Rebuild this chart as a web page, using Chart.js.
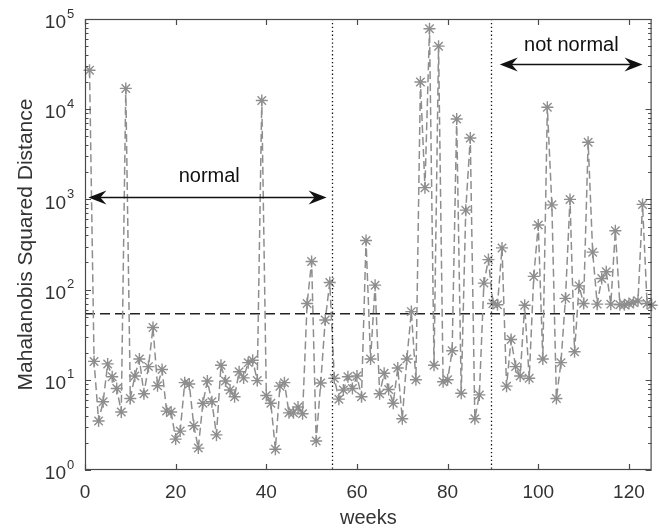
<!DOCTYPE html>
<html><head><meta charset="utf-8">
<script src="https://cdn.jsdelivr.net/npm/chart.js@4/dist/chart.umd.min.js"></script>
<style>html,body{margin:0;padding:0;background:#fff}#wrap{width:659px;height:528px}</style>
</head><body><div id="wrap"><canvas id="c" width="659" height="528"></canvas></div>
<script>
const weeks = [1,2,3,4,5,6,7,8,9,10,11,12,13,14,15,16,17,18,19,20,21,22,23,24,25,26,27,28,29,30,31,32,33,34,35,36,37,38,39,40,41,42,43,44,45,46,47,48,49,50,51,52,53,54,55,56,57,58,59,60,61,62,63,64,65,66,67,68,69,70,71,72,73,74,75,76,77,78,79,80,81,82,83,84,85,86,87,88,89,90,91,92,93,94,95,96,97,98,99,100,101,102,103,104,105,106,107,108,109,110,111,112,113,114,115,116,117,118,119,120,121,122,123,124,125];
const distance = [27000,16,3.5,5.7,15,10.8,8,4.4,17000,6.2,11,17,7,14,38,8.6,13,4.5,4.4,2.2,2.7,9.3,9,3.1,1.75,5.5,9.7,5.7,2.45,14.5,9.7,7.7,6.5,12.3,10.5,15.5,16.5,9.8,12500,6.7,5.5,1.7,8.5,9.3,4.3,4.3,5,4.2,70,205,2.1,9.2,46,120,10.4,6.1,7.7,10.8,8,11,6.5,350,17,112,7,11.8,7.8,5.5,13.5,3.7,17,57,10,20000,1350,78000,14.5,50000,9.5,10,21,7800,7.1,760,4800,3.7,6.8,118,215,70,68,290,8.5,28,14,11,67,10.4,140,520,17,10500,870,6.2,15.5,80,1000,20.5,110,70,4300,260,69,133,158,69,450,68,68,70,72,75,880,70,67];
const threshold = 54;
const boundaries = [54.5, 89.5];
const xTicks = [0,20,40,60,80,100,120];
const yTicks = [1,10,100,1000,10000,100000];
const yTickExp = ['0','1','2','3','4','5'];
const arrows = [
  {x1:0.75, x2:53.3, y:1070},
  {x1:91.5, x2:123.0, y:32000}
];
const notes = [
  {text:'normal', x:27.4, y:1780},
  {text:'not normal', x:107.3, y:51500}
];

const GRAY = '#8e8e8e';
const AX = '#4a4a4a';
const TXT = '#333333';
const FONT = '"Liberation Sans", Arial, sans-serif';

const overlay = {
  id:'overlay',
  afterDraw(chart){
    const ctx = chart.ctx, xs = chart.scales.x, ys = chart.scales.y, a = chart.chartArea;
    ctx.save();
    // boundaries
    ctx.strokeStyle = '#111'; ctx.lineWidth = 1.3; ctx.setLineDash([1.3,2.6]);
    boundaries.forEach(b=>{
      const px = Math.round(xs.getPixelForValue(b))+0.5;
      ctx.beginPath(); ctx.moveTo(px,a.top); ctx.lineTo(px,a.bottom); ctx.stroke();
    });
    ctx.setLineDash([]);
    // arrows
    ctx.strokeStyle = '#111'; ctx.fillStyle = '#111'; ctx.lineWidth = 1.3;
    const head = (tx,ty,dir)=>{
      const L=18, W=7, N=12;
      ctx.beginPath();
      ctx.moveTo(tx,ty);
      ctx.lineTo(tx+dir*L,ty-W);
      ctx.lineTo(tx+dir*N,ty);
      ctx.lineTo(tx+dir*L,ty+W);
      ctx.closePath(); ctx.fill();
    };
    arrows.forEach(ar=>{
      const p1 = xs.getPixelForValue(ar.x1), p2 = xs.getPixelForValue(ar.x2), py = Math.round(ys.getPixelForValue(ar.y))+0.5;
      ctx.beginPath(); ctx.moveTo(p1+5,py); ctx.lineTo(p2-5,py); ctx.stroke();
      head(p1,py,1); head(p2,py,-1);
    });
    // notes
    ctx.fillStyle = '#111'; ctx.font = '20px ' + FONT;
    ctx.textAlign = 'center'; ctx.textBaseline = 'middle';
    notes.forEach(n=>{ ctx.fillText(n.text, xs.getPixelForValue(n.x), ys.getPixelForValue(n.y)); });
    // box
    ctx.strokeStyle = AX; ctx.lineWidth = 1.2;
    ctx.strokeRect(a.left+0.5, a.top+0.5, a.right-a.left-1, a.bottom-a.top-1);
    // x ticks
    ctx.beginPath();
    xTicks.forEach(t=>{
      const px = Math.round(xs.getPixelForValue(t))+0.5;
      ctx.moveTo(px,a.bottom); ctx.lineTo(px,a.bottom-6);
      ctx.moveTo(px,a.top); ctx.lineTo(px,a.top+6);
    });
    // y ticks major + minor
    yTicks.forEach((t,i)=>{
      const py = Math.round(ys.getPixelForValue(t))+0.5;
      ctx.moveTo(a.left,py); ctx.lineTo(a.left+6,py);
      ctx.moveTo(a.right,py); ctx.lineTo(a.right-6,py);
      if(i<yTicks.length-1){
        for(let m=2;m<=9;m++){
          const pm = Math.round(ys.getPixelForValue(t*m))+0.5;
          ctx.moveTo(a.left,pm); ctx.lineTo(a.left+3.5,pm);
          ctx.moveTo(a.right,pm); ctx.lineTo(a.right-3.5,pm);
        }
      }
    });
    ctx.stroke();
    // x labels
    ctx.fillStyle = TXT; ctx.font = '19px ' + FONT;
    ctx.textAlign = 'center'; ctx.textBaseline = 'middle';
    xTicks.forEach(t=>{ ctx.fillText(String(t), xs.getPixelForValue(t), a.bottom+23); });
    // y labels
    yTicks.forEach((t,i)=>{
      const py = ys.getPixelForValue(t);
      ctx.font = '19px ' + FONT;
      ctx.textAlign = 'right'; ctx.textBaseline = 'middle';
      ctx.fillText('10', 66, py+4);
      ctx.font = '13px ' + FONT;
      ctx.textAlign = 'left';
      ctx.fillText(yTickExp[i], 67, py-5);
    });
    // axis titles
    ctx.font = '20px ' + FONT;
    ctx.textAlign = 'center'; ctx.textBaseline = 'middle';
    ctx.fillText('weeks', (a.left+a.right)/2, 518);
    ctx.save();
    ctx.translate(26, (a.top+a.bottom)/2);
    ctx.rotate(-Math.PI/2);
    ctx.font = '21px ' + FONT;
    ctx.fillText('Mahalanobis Squared Distance', 0, 0);
    ctx.restore();
    ctx.restore();
  }
};

new Chart(document.getElementById('c'), {
  type:'scatter',
  data:{
    datasets:[
      {
        data: weeks.map((w,i)=>({x:w, y:distance[i]})),
        showLine:true,
        borderColor:GRAY, borderWidth:1.5, borderDash:[8,4],
        pointStyle:'star', pointRadius:6, pointBorderColor:GRAY, pointBorderWidth:1.4,
        pointBackgroundColor:GRAY, tension:0, clip:false
      },
      {
        data:[{x:0,y:threshold},{x:125,y:threshold}],
        showLine:true, borderColor:'#222', borderWidth:1.3, borderDash:[10,5],
        pointRadius:0, tension:0
      }
    ]
  },
  options:{
    responsive:false, animation:false, devicePixelRatio:1,
    layout:{padding:{top:19,right:3,left:0,bottom:0}},
    plugins:{legend:{display:false}, tooltip:{enabled:false}},
    scales:{
      x:{type:'linear', min:0, max:125, grid:{display:false}, border:{display:false},
         ticks:{display:false}, afterFit(s){ s.height = 58; }},
      y:{type:'logarithmic', min:1, max:100000, grid:{display:false}, border:{display:false},
         ticks:{display:false}, afterFit(s){ s.width = 85; }}
    }
  },
  plugins:[overlay]
});
</script></body></html>
